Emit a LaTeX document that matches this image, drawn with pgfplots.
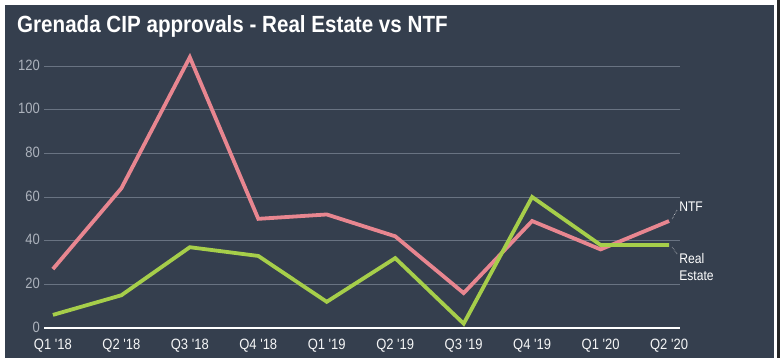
\documentclass[border=0pt]{standalone}
\usepackage{pgfplots}
\pgfplotsset{compat=1.18}
\usepackage{fontspec}
\setmainfont{Liberation Sans}
\newfontfamily\condfont[FakeStretch=0.87]{Liberation Sans}
\newfontfamily\titlefont[FakeStretch=0.88]{Liberation Sans Bold}
\definecolor{bg}{RGB}{53,63,78}
\definecolor{gridc}{RGB}{105,115,130}
\definecolor{tickc}{RGB}{172,178,188}
\definecolor{ntf}{RGB}{232,134,144}
\definecolor{re}{RGB}{166,206,74}
\begin{document}
\begin{tikzpicture}[x=1bp,y=1bp]
\useasboundingbox (0,0) rectangle (780,358);
\fill[white] (0,0) rectangle (780,358);
\fill[bg] (5,0) rectangle (774,353);
\fill[black!85] (777,0) rectangle (780,358);
\node[anchor=base west, inner sep=0pt, text=white] at (17,326) {\titlefont\fontsize{23.5}{27}\selectfont Grenada CIP approvals - Real Estate vs NTF};
\begin{axis}[
  at={(44bp,30bp)}, anchor=south west,
  scale only axis, width=636bp, height=262bp,
  xmin=-0.13, xmax=9.16, ymin=0, ymax=120,
  clip=false,
  axis line style={draw=none},
  axis x line*=bottom,
  major tick length=0pt,
  xtick={0,...,9},
  xticklabels={Q1 '18,Q2 '18,Q3 '18,Q4 '18,Q1 '19,Q2 '19,Q3 '19,Q4 '19,Q1 '20,Q2 '20},
  ytick={0,20,...,120},
  ymajorgrids, grid style={gridc, line width=0.8bp},
  yticklabel style={inner sep=0pt, anchor=east, xshift=-4bp, yshift=1bp, text=tickc, font=\condfont\fontsize{15}{17}\selectfont},
  xticklabel style={inner sep=0pt, anchor=north, yshift=-10.5bp, text=white!88!tickc, font=\condfont\fontsize{15}{17}\selectfont},
  /pgf/number format/assume math mode=true,
]
\draw[white, line width=1.3bp] (axis cs:-0.13,0) -- (axis cs:9.16,0);
\addplot[ntf, line width=3.8bp, line join=miter, miter limit=10] coordinates {
(0,27) (1,64) (2,124) (3,50) (4,52) (5,42) (6,16) (7,49) (8,36) (9,49)};
\addplot[re, line width=3.8bp, line join=miter, miter limit=10] coordinates {
(0,6) (1,15) (2,37) (3,33) (4,12) (5,32) (6,2) (7,60) (8,38) (9,38)};
\draw[white!80!bg, densely dotted, line width=0.6bp] ([shift={(3bp,2bp)}]axis cs:9,49) -- ([shift={(8bp,11bp)}]axis cs:9,49);
\draw[white!80!bg, densely dotted, line width=0.6bp] ([shift={(3bp,-2bp)}]axis cs:9,38) -- ([shift={(8bp,-9bp)}]axis cs:9,38);
\node[anchor=west, inner sep=0pt, text=white, font=\condfont\fontsize{14}{16}\selectfont] at ([shift={(10bp,14bp)}]axis cs:9,49) {NTF};
\node[anchor=north west, inner sep=0pt, text=white, font=\condfont\fontsize{14}{17.5}\selectfont, align=left] at ([shift={(10bp,-8bp)}]axis cs:9,38) {Real\\Estate};
\end{axis}
\end{tikzpicture}
\end{document}
